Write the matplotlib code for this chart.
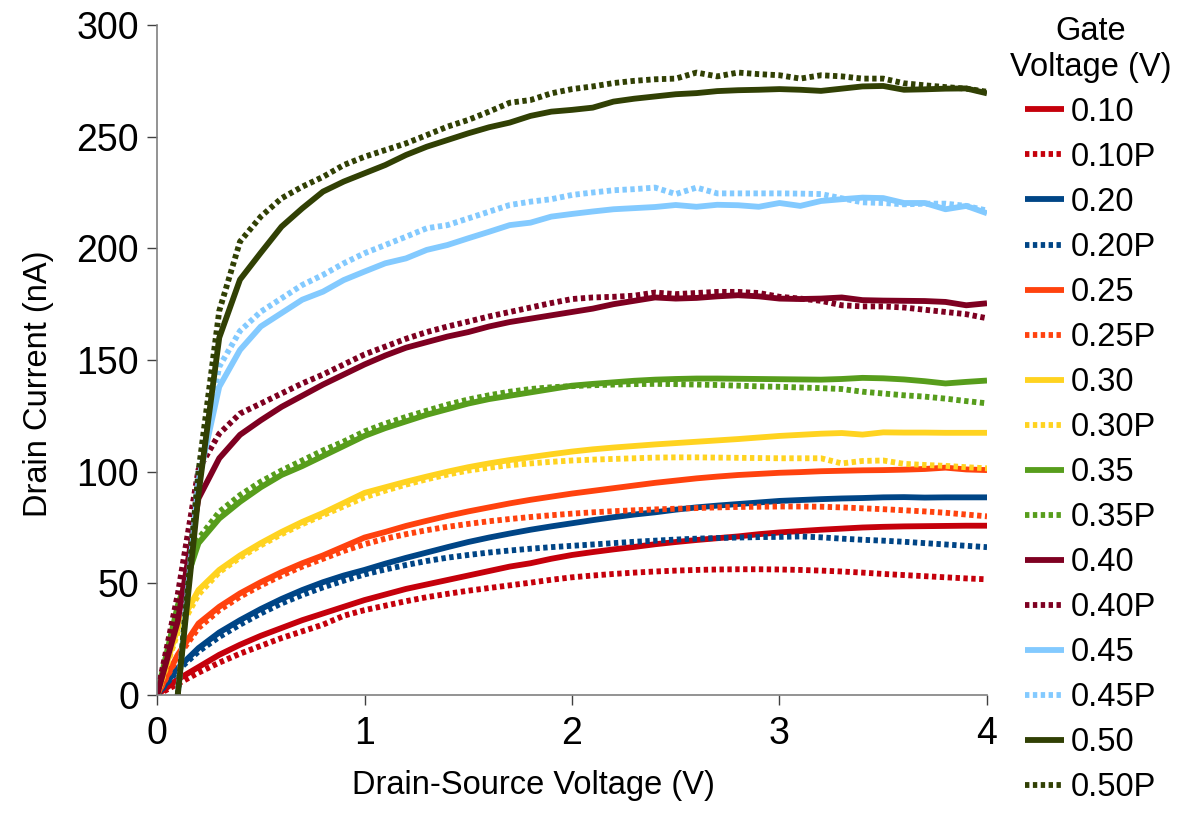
import numpy as np
import matplotlib
matplotlib.use("Agg")
import matplotlib.pyplot as plt

plt.rcParams['font.family'] = ['Liberation Sans', 'DejaVu Sans']

# Drain-source voltage grid (V)
vds = [round(0.1 * i, 1) for i in range(41)]
nan = np.nan

labels = ["0.10", "0.10P", "0.20", "0.20P", "0.25", "0.25P", "0.30", "0.30P",
          "0.35", "0.35P", "0.40", "0.40P", "0.45", "0.45P", "0.50", "0.50P"]

i_010 = [0, 7, 12.5, 18, 22.5, 26.5, 30, 33.5, 36.5, 39.5, 42.5, 45, 47.5, 49.5, 51.5, 53.5,
         55.5, 57.5, 59, 61, 62.7, 64, 65.2, 66.3, 67.5, 68.5, 69.4, 70.2, 71, 72, 72.8,
         73.4, 74, 74.5, 75, 75.3, 75.5, 75.6, 75.7, 75.8, 75.8]
i_010p = [0, 5, 10, 14.5, 18.5, 22, 25.5, 28.5, 31.5, 35.5, 38, 40, 42, 43.8, 45.3, 46.7,
          47.9, 49.1, 50.3, 51.6, 52.7, 53.5, 54.2, 54.8, 55.3, 55.7, 56, 56.2, 56.3, 56.3, 56.2,
          56, 55.7, 55.3, 54.8, 54.2, 53.7, 53.2, 52.7, 52.2, 51.8]
i_020 = [0, 12, 21, 28, 33.5, 38.5, 43, 47, 50.5, 53.5, 56, 58.8, 61.4, 63.8, 66.2, 68.5,
         70.5, 72.3, 74, 75.5, 76.9, 78.3, 79.6, 80.8, 81.8, 83, 84, 84.8, 85.5, 86.2, 86.9,
         87.3, 87.7, 88, 88.2, 88.5, 88.6, 88.4, 88.5, 88.5, 88.5]
i_020p = [0, 11, 19.5, 26, 31.5, 36.5, 41, 44.8, 48.2, 51.2, 54, 56.2, 58.2, 60, 61.5, 62.7,
          63.8, 64.7, 65.5, 66.2, 66.8, 67.4, 68, 68.6, 69.1, 69.6, 70, 70.3, 70.5, 70.7, 70.8,
          71, 70.6, 70, 69.5, 69.1, 68.6, 68, 67.4, 66.8, 66.2]
i_025 = [0, 18, 32, 39.5, 45.5, 50.5, 55, 59, 62.5, 66.5, 70.5, 73, 75.7, 78, 80.2, 82.2,
         84, 85.8, 87.4, 88.8, 90.2, 91.4, 92.6, 93.8, 95, 96, 97, 97.8, 98.5, 99, 99.5,
         99.8, 100.2, 100.4, 100.6, 100.7, 100.9, 101.2, 101.8, 101, 100.7]
i_025p = [0, 17, 30, 38, 44, 49, 53.5, 57.5, 61, 64.5, 67.5, 70, 72, 73.8, 75.3, 76.6,
          77.8, 78.8, 79.7, 80.5, 81.2, 81.8, 82.3, 82.7, 83.1, 83.4, 83.7, 84, 84.2, 84.3, 84.4,
          84.4, 84.3, 84, 83.6, 83.2, 82.7, 82.2, 81.6, 80.8, 80]
i_030 = [0, 30, 47, 56, 62.5, 68, 73, 77.5, 81.5, 86, 90.5, 93, 95.5, 97.8, 100, 102,
         103.7, 105.2, 106.5, 107.8, 109, 110, 110.8, 111.5, 112.2, 112.8, 113.4, 114, 114.6, 115.3, 116,
         116.5, 117, 117.3, 116.6, 117.6, 117.5, 117.5, 117.4, 117.4, 117.4]
i_030p = [0, 28, 45, 55, 61.5, 67, 72, 76.5, 80.5, 84.5, 88.5, 91.5, 94.2, 96.6, 98.7, 100.5,
          101.8, 102.9, 103.7, 104.4, 105, 105.4, 105.7, 106, 106.3, 106.4, 106.4, 106.3, 106.2, 106.1, 106,
          106, 106, 103.7, 104.8, 105, 103.5, 103, 102.6, 102, 101.5]
i_035 = [0, 40, 68, 79, 86.5, 93, 98.5, 102.5, 107, 111.5, 116, 119.5, 122.5, 125.5, 128, 130.5,
         132.5, 134, 135.5, 137, 138.5, 139.3, 140, 140.7, 141.2, 141.5, 141.7, 141.7, 141.6, 141.5, 141.4,
         141.3, 141.2, 141.5, 142, 141.8, 141.3, 140.5, 139.5, 140.2, 140.8]
i_035p = [0, 38, 70, 82, 89.5, 95.5, 100.5, 105, 109.5, 113.5, 118, 121.5, 124.5, 127.3, 130, 132.3,
          134.2, 135.8, 137, 137.8, 138.3, 138.7, 139, 139.2, 139.3, 139.2, 139, 138.8, 138.5, 138.2, 138,
          137.7, 137.4, 137, 135.8, 135, 134.2, 133.6, 132.7, 131.6, 130.6]
i_040 = [0, 33, 88, 106, 116.5, 123, 129, 134, 139, 143.5, 148, 152, 155.5, 158, 160.5, 162.5,
         165, 167, 168.5, 170, 171.5, 173, 175, 176.5, 178, 177.5, 177.8, 178.5, 179, 178.5, 177.5,
         177.3, 177.5, 178, 176.8, 176.6, 176.5, 176.4, 176, 174.5, 175.4]
i_040p = [0, 45, 101, 117, 126, 130.5, 135, 139.5, 143.5, 148, 152.5, 156, 159.5, 162.5, 165, 167.2,
          169.5, 171.5, 173.5, 175.5, 177.3, 178, 178.3, 178.8, 180.2, 179.5, 180, 180.5, 180.5, 180, 178.3,
          177.5, 176.5, 174.5, 174, 174, 173.5, 172.5, 171.5, 170.5, 168.7]
i_045 = [nan, 0, 96, 138, 154.5, 165, 171, 177, 180.6, 185.8, 189.6, 193.3, 195.5, 199.3, 201.5, 204.5,
         207.4, 210.4, 211.5, 214.2, 215.4, 216.5, 217.5, 218, 218.5, 219.4, 218.6, 219.5, 219.3, 218.6, 220.3,
         219, 221.2, 222, 222.7, 222.5, 220.3, 220.3, 217.5, 219, 215.7]
i_045p = [nan, 0, 100, 147, 163, 171.6, 177.6, 183.6, 188.1, 193.3, 197.8, 201.5, 205.2, 209, 210.4, 213.4,
          216.4, 219.4, 220.9, 222, 223.9, 225, 226, 226.5, 227.2, 224.3, 227.2, 224.6, 224.6, 224.6, 224.6,
          224.5, 224.3, 222.4, 220.6, 220.3, 219.7, 220, 220, 219, 216.9]
i_050 = [nan, 0, 90, 160, 186, 198, 209.7, 217.9, 225.4, 229.9, 233.6, 237.3, 241.8, 245.5, 248.5, 251.5,
         254.2, 256.3, 259.3, 261.2, 262, 263, 265.7, 267, 268, 269, 269.5, 270.4, 270.8, 271, 271.3,
         271, 270.5, 271.5, 272.5, 272.7, 271, 271.2, 271.5, 271.6, 269.4]
i_050p = [nan, 0, 100, 172, 203, 214.2, 222.4, 227.6, 232, 237.3, 241, 244, 247, 250.7, 254.5, 257.5,
          261.2, 265.2, 266.4, 269.4, 271.3, 272.5, 274, 275, 275.7, 276, 278.7, 277, 278.7, 278, 277.5,
          276, 277.5, 277, 276, 276, 273.9, 273, 272.2, 271.5, 270.1]

series = [i_010, i_010p, i_020, i_020p, i_025, i_025p, i_030, i_030p,
          i_035, i_035p, i_040, i_040p, i_045, i_045p, i_050, i_050p]
colors = ["#C5000B", "#C5000B", "#004586", "#004586", "#FF420E", "#FF420E",
          "#FFD320", "#FFD320", "#579D1C", "#579D1C", "#7E0021", "#7E0021",
          "#83CAFF", "#83CAFF", "#314004", "#314004"]

W, H = 1187, 814
fig = plt.figure(figsize=(W / 100, H / 100), dpi=100)
ax = fig.add_axes([157 / W, 1 - 695 / H, (987 - 157) / W, (695 - 25) / H])

for lab, ys, c in zip(labels, series, colors):
    if lab.endswith("P"):
        ax.plot(vds, ys, color=c, lw=4.2, linestyle=(0, (0.75, 0.6)),
                dash_capstyle='butt', label=lab)
    else:
        ax.plot(vds, ys, color=c, lw=4.2, solid_capstyle='butt',
                solid_joinstyle='round', label=lab)

ax.set_xlim(0, 4)
ax.set_ylim(0, 300)
ax.set_xticks([0, 1, 2, 3, 4])
ax.set_yticks([0, 50, 100, 150, 200, 250, 300])
for s in ['top', 'right']:
    ax.spines[s].set_visible(False)
for s in ['left', 'bottom']:
    ax.spines[s].set_color('#808080')
    ax.spines[s].set_linewidth(1.2)
ax.tick_params(axis='both', direction='out', length=7, width=1.0, color='#404040',
               labelsize=27)
ax.tick_params(axis='y', pad=6)
ax.tick_params(axis='x', pad=8)

ax.set_xlabel("Drain-Source Voltage (V)", fontsize=23.5)
ax.set_ylabel("Drain Current (nA)", fontsize=23.5)
ax.xaxis.set_label_coords(0.453, -0.112)
ax.yaxis.set_label_coords(-0.124, 0.465)

leg = fig.legend(loc='upper left', bbox_to_anchor=(1010 / W, 1 - 16 / H),
                 frameon=False, fontsize=23.5, title="Gate\nVoltage (V)",
                 title_fontsize=23.5, handlelength=1.2, handletextpad=0.22,
                 labelspacing=0.43, borderpad=0, borderaxespad=0)
leg.get_title().set_multialignment('center')

fig.savefig("out.png", dpi=100)
